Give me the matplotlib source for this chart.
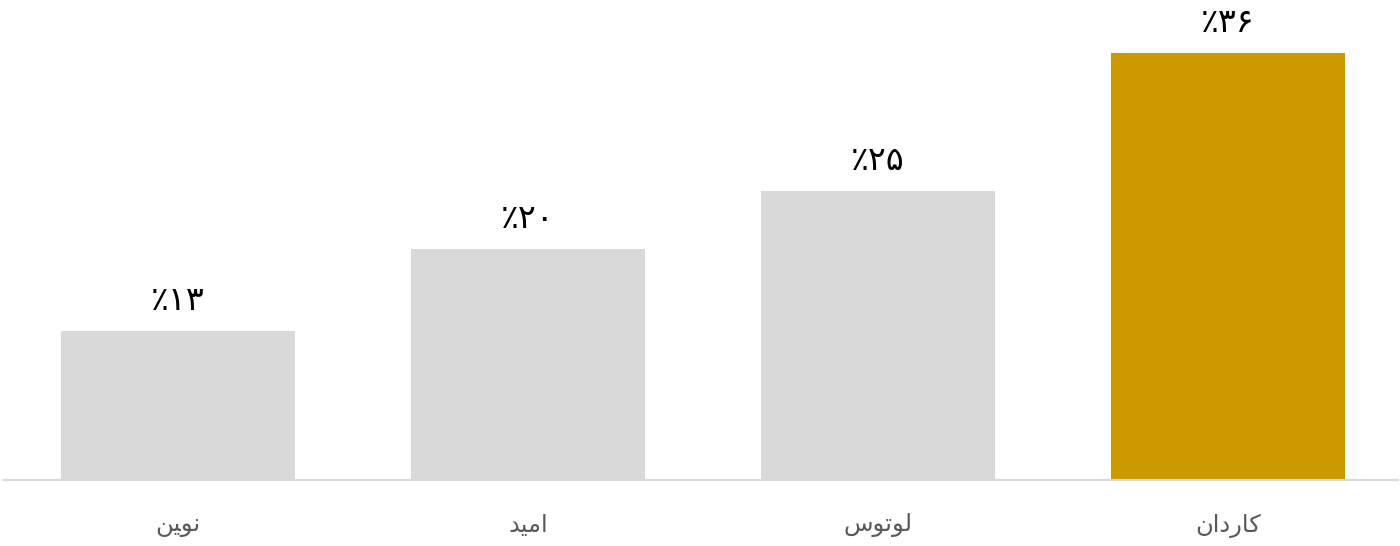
#!/usr/bin/env python3
"""Bar chart of shares per company (Persian labels)."""

import matplotlib
matplotlib.use("Agg")
import matplotlib.pyplot as plt

# Company names, already in visual (left-to-right) order with Arabic
# presentation forms, since matplotlib does no shaping / bidi itself.
# نوین, امید, لوتوس, کاردان
companies = [
    "\uFEE6\uFEF4\uFEEE\uFEE7",
    "\uFEAA\uFEF4\uFEE3\uFE8D",
    "\uFEB1\uFEEE\uFE97\uFEEE\uFEDF",
    "\uFEE5\uFE8D\uFEA9\uFEAD\uFE8E\uFB90",
]
shares = [12.6, 19.5, 24.4, 36.0]
share_labels = ["٪۱۳", "٪۲۰", "٪۲۵", "٪۳۶"]
bar_colors = ["#D9D9D9", "#D9D9D9", "#D9D9D9", "#CC9900"]

plt.rcParams["font.family"] = ["DejaVu Sans"]

fig = plt.figure(figsize=(14, 5.46), dpi=100)
ax = fig.add_axes([3 / 1400, 66 / 546, 1395 / 1400, 480 / 546])

x = range(len(companies))
bars = ax.bar(x, shares, width=0.67, color=bar_colors)

for rect, label in zip(bars, share_labels):
    ax.annotate(
        label,
        (rect.get_x() + rect.get_width() / 2, rect.get_height()),
        xytext=(0, 10),
        textcoords="offset points",
        ha="center",
        va="bottom",
        fontsize=24,
        color="#000000",
    )

ax.set_xlim(-0.5, 3.486)
ax.set_ylim(0, 40.5)
ax.set_xticks(list(x))
ax.set_xticklabels(companies, fontsize=17.5, color="#595959")
ax.tick_params(axis="x", length=0, pad=24)
ax.set_yticks([])

for side in ("top", "right", "left"):
    ax.spines[side].set_visible(False)
ax.spines["bottom"].set_color("#D9D9D9")
ax.spines["bottom"].set_linewidth(1.5)

fig.savefig("out.png", dpi=100)
